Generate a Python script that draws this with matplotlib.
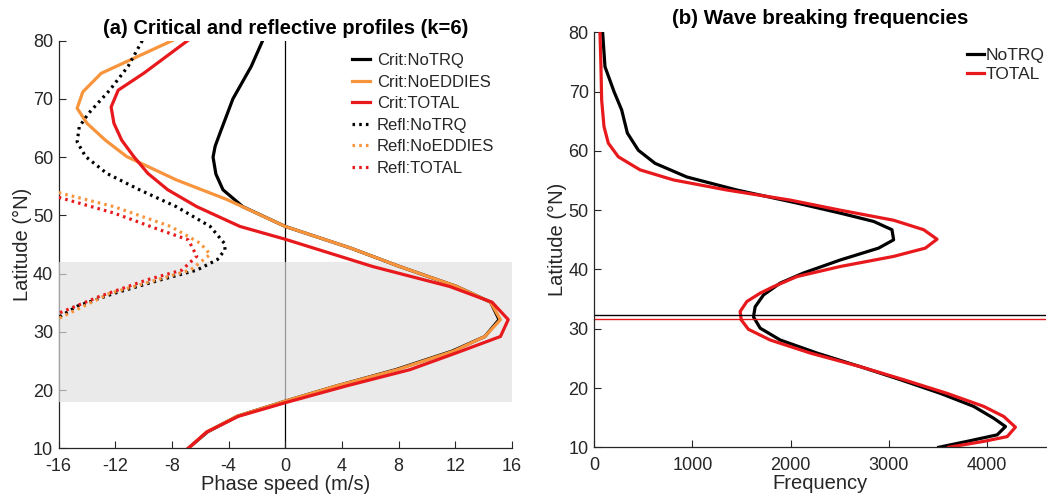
import matplotlib.pyplot as plt

plt.rcParams['font.family'] = ['Liberation Sans', 'DejaVu Sans']
plt.rcParams['axes.unicode_minus'] = False

# ---- panel (a): critical / reflective phase speeds (m/s) vs latitude ----
crit_notrq_lat = [80, 75.6, 70.0, 64.2, 61.9, 60.0, 57.1, 54.4, 51.5, 48.1, 44.4, 41.2,
                  37.8, 35.1, 32.1, 29.2, 26.7, 23.5, 20.7, 18.1, 15.5, 12.8, 10]
crit_notrq = [-1.6, -2.4, -3.7, -4.6, -4.95, -5.1, -4.9, -4.4, -3.0, 0.0, 4.6, 8.1,
              12.1, 14.5, 15.1, 14.1, 11.8, 7.8, 3.6, 0.0, -3.4, -5.5, -6.85]

crit_noeddies_lat = [80, 74.4, 71.2, 68.4, 65.8, 62.9, 60.1, 56.1, 52.7, 48.1, 44.4,
                     41.2, 37.8, 35.1, 32.1, 29.2, 26.7, 23.5, 20.7, 18.1, 15.5, 12.8, 10]
crit_noeddies = [-8.0, -13.0, -14.3, -14.7, -14.0, -12.7, -11.2, -7.7, -4.1, 0.0, 4.6,
                 8.1, 12.1, 14.5, 15.2, 14.1, 11.9, 7.9, 3.6, 0.0, -3.4, -5.55, -6.85]

crit_total_lat = [80, 74.4, 71.5, 68.6, 65.8, 62.9, 60.1, 57.2, 54.4, 51.5, 48.1, 45.9,
                  41.2, 37.8, 35.1, 32.1, 29.2, 26.4, 23.5, 20.7, 17.9, 15.5, 12.8, 10]
crit_total = [-6.9, -10.0, -11.8, -12.3, -12.1, -11.55, -10.7, -9.7, -8.3, -6.25, -3.2, 0.0,
              6.2, 11.6, 14.6, 15.75, 15.2, 12.1, 8.8, 4.3, 0.1, -3.3, -5.55, -6.85]

refl_notrq_lat = [80, 75.6, 71.5, 67.5, 65.2, 62.6, 60.1, 57.2, 54.4, 51.5, 48.1, 45.2,
                  44.1, 42.4, 40.6, 38.9, 36.6, 34.4, 32.5]
refl_notrq = [-10.1, -11.1, -12.4, -13.9, -14.55, -14.7, -14.1, -12.6, -10.3, -7.7, -5.3, -4.3,
              -4.25, -4.8, -6.25, -8.85, -12.1, -14.7, -16]

refl_noeddies_lat = [53.9, 51.5, 48.1, 45.2, 43.3, 40.6, 38.9, 36.6, 32.3]
refl_noeddies = [-16, -12.1, -8.1, -6.0, -5.3, -6.7, -9.1, -12.4, -16]

refl_total_lat = [53.1, 50.4, 47.5, 45.8, 43.0, 40.6, 38.9, 36.1, 33.2]
refl_total = [-16, -12.1, -8.85, -6.85, -6.25, -7.3, -9.8, -13.1, -16]

band_lat = [18, 42]

# ---- panel (b): wave breaking frequencies ----
freq_notrq_lat = [80, 74.2, 70.0, 66.9, 63.0, 60.1, 57.9, 55.6, 53.4, 51.2, 49.5, 48.1,
                  46.7, 45.0, 43.6, 41.6, 39.4, 37.7, 35.7, 33.7, 32.0, 30.1, 28.1, 25.9,
                  23.6, 21.4, 19.1, 16.9, 14.9, 13.5, 12.1, 11.0, 10]
freq_notrq = [85, 109, 201, 279, 337, 449, 619, 942, 1452, 2063, 2505, 2845,
              3031, 3048, 2895, 2505, 2130, 1893, 1723, 1638, 1621, 1689, 1893, 2267,
              2709, 3117, 3524, 3863, 4067, 4187, 4102, 3796, 3507]

freq_total_lat = [80, 74.2, 68.6, 64.1, 61.3, 59.0, 56.8, 55.1, 53.4, 51.7, 50.0, 48.3,
                  46.7, 45.1, 43.6, 42.2, 40.5, 38.8, 37.1, 36.0, 34.6, 32.9, 31.5, 29.9,
                  28.1, 25.9, 23.6, 21.4, 19.1, 16.9, 15.2, 13.4, 11.8, 11.0, 10]
freq_total = [58, 68, 75, 99, 143, 245, 466, 806, 1350, 1995, 2505, 3048,
              3354, 3490, 3371, 3048, 2505, 2063, 1825, 1689, 1554, 1485, 1496, 1570,
              1791, 2199, 2709, 3151, 3592, 3965, 4169, 4288, 4204, 3965, 3608]

min_lat_notrq = 32.3
min_lat_total = 31.6

ORANGE = '#f8943c'
RED = '#e8191c'
TXT = '#262626'
LW = 2.3
DOT = (0, (0.8, 1.3))

fig = plt.figure(figsize=(10.47, 4.98), dpi=100)
ax1 = fig.add_axes([0.0561, 0.0998, 0.4327, 0.8185])
ax2 = fig.add_axes([0.5676, 0.1018, 0.4315, 0.8333])

# panel (a)
ax1.axvline(0, color='black', lw=0.9, zorder=1)
ax1.axhspan(band_lat[0], band_lat[1], color=(0.88, 0.88, 0.88), alpha=0.68, lw=0, zorder=3)
ax1.plot(crit_notrq, crit_notrq_lat, color='black', lw=LW, zorder=4, label='Crit:NoTRQ')
ax1.plot(crit_noeddies, crit_noeddies_lat, color=ORANGE, lw=LW, zorder=4, label='Crit:NoEDDIES')
ax1.plot(crit_total, crit_total_lat, color=RED, lw=LW, zorder=4, label='Crit:TOTAL')
ax1.plot(refl_notrq, refl_notrq_lat, color='black', lw=LW, ls=DOT, zorder=4, label='Refl:NoTRQ')
ax1.plot(refl_noeddies, refl_noeddies_lat, color=ORANGE, lw=LW, ls=DOT, zorder=4, label='Refl:NoEDDIES')
ax1.plot(refl_total, refl_total_lat, color=RED, lw=LW, ls=DOT, zorder=4, label='Refl:TOTAL')
ax1.set_xlim(-16, 16)
ax1.set_ylim(10, 80)
ax1.set_xticks(range(-16, 17, 4))
ax1.set_xlabel('Phase speed (m/s)', fontsize=14.5, color=TXT, labelpad=0)
ax1.set_ylabel('Latitude (°N)', fontsize=14.5, color=TXT, labelpad=1)
ax1.set_title('(a) Critical and reflective profiles (k=6)', fontsize=14.5,
              fontweight='bold', pad=5)
ax1.legend(loc='upper left', bbox_to_anchor=(0.632, 0.986), frameon=False, fontsize=12,
           handlelength=1.1, handletextpad=0.4, labelspacing=0.39, borderaxespad=0,
           labelcolor=TXT)

# panel (b)
ax2.plot(freq_notrq, freq_notrq_lat, color='black', lw=LW, label='NoTRQ')
ax2.plot(freq_total, freq_total_lat, color=RED, lw=LW, label='TOTAL')
ax2.axhline(min_lat_notrq, color='black', lw=1.0)
ax2.axhline(min_lat_total, color=RED, lw=1.0)
ax2.set_xlim(0, 4600)
ax2.set_ylim(10, 80)
ax2.set_xticks(range(0, 4001, 1000))
ax2.set_xlabel('Frequency', fontsize=14.5, color=TXT, labelpad=0)
ax2.set_ylabel('Latitude (°N)', fontsize=14.5, color=TXT, labelpad=1)
ax2.set_title('(b) Wave breaking frequencies', fontsize=14.8, fontweight='bold', pad=6)
ax2.legend(loc='upper left', bbox_to_anchor=(0.81, 0.98), frameon=False, fontsize=12.5,
           handlelength=0.95, handletextpad=0.1, labelspacing=0.25, borderaxespad=0,
           labelcolor=TXT)

for ax in (ax1, ax2):
    ax.set_yticks(range(10, 81, 10))
    for side in ('top', 'right'):
        ax.spines[side].set_visible(False)
    for side in ('left', 'bottom'):
        ax.spines[side].set_color(TXT)
        ax.spines[side].set_linewidth(0.9)
    ax.tick_params(direction='in', length=5, width=0.8, labelsize=13, colors=TXT)
    ax.tick_params(axis='x', pad=7)
    ax.tick_params(axis='y', pad=4)

fig.savefig('out.png', dpi=100)
